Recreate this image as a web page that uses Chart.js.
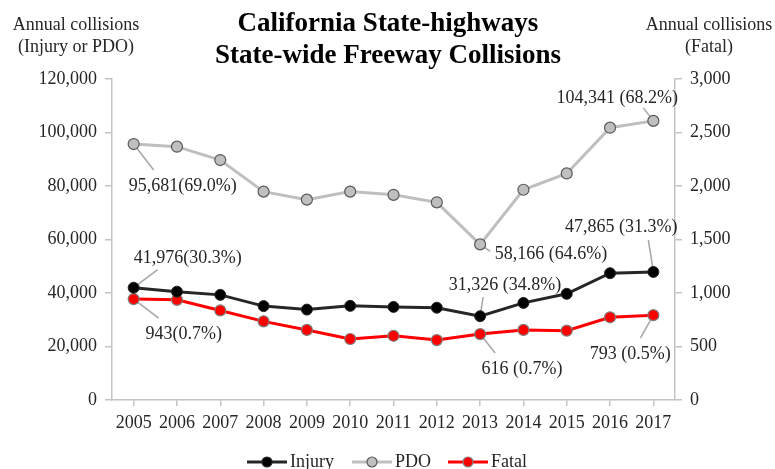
<!DOCTYPE html>
<html>
<head>
<meta charset="utf-8">
<script src="https://cdn.jsdelivr.net/npm/chart.js@4.4.1/dist/chart.umd.min.js"></script>
<style>
  html, body { margin: 0; padding: 0; background: #fff; }
  #wrap { width: 775px; height: 469px; position: relative; }
</style>
</head>
<body>
<div id="wrap"><canvas id="cv"></canvas></div>
<script>
const years  = ['2005', '2006', '2007', '2008', '2009', '2010', '2011', '2012', '2013', '2014', '2015', '2016', '2017'];
const injury = [41976, 40500, 39300, 35100, 33800, 35200, 34800, 34500, 31326, 36300, 39700, 47400, 47865];
const pdo    = [95681, 94700, 89700, 77900, 74900, 77900, 76700, 73900, 58166, 78600, 84700, 101800, 104341];
const fatal  = [943, 936, 837, 735, 655, 570, 600, 560, 616, 655, 648, 773, 793];

const leftTicks  = [0, 20000, 40000, 60000, 80000, 100000, 120000];
const rightTicks = [0, 500, 1000, 1500, 2000, 2500, 3000];

// callouts: dataset index, year index, text offset, leader end offset
const callouts = [
  { ds: 1, i: 0,  sep: '',  tx: 49,  ty: 42,  lx: 20,  ly: 26 },
  { ds: 0, i: 0,  sep: '',  tx: 54,  ty: -29, lx: 24,  ly: -18 },
  { ds: 2, i: 0,  sep: '',  tx: 50,  ty: 35,  lx: 25,  ly: 19 },
  { ds: 1, i: 8,  sep: ' ', tx: 71,  ty: 10,  lx: 10,  ly: 7 },
  { ds: 0, i: 8,  sep: ' ', tx: 25,  ty: -31, lx: 3,   ly: -19 },
  { ds: 2, i: 8,  sep: ' ', tx: 42,  ty: 35,  lx: 15,  ly: 19 },
  { ds: 1, i: 12, sep: ' ', tx: -36, ty: -23, lx: -10, ly: -13 },
  { ds: 0, i: 12, sep: ' ', tx: -32, ty: -45, lx: -5,  ly: -32 },
  { ds: 2, i: 12, sep: ' ', tx: -23, ty: 39,  lx: -13, ly: 23 }
];

const SERIF = '"Liberation Serif", "Times New Roman", serif';
const TEXT = '#262626';
const AXIS = '#c4c4c4';
Chart.defaults.font.family = SERIF;
Chart.defaults.color = TEXT;

const fmt = v => v.toLocaleString('en-US');
const seriesData = [injury, pdo, fatal];

function calloutText(c) {
  const v = seriesData[c.ds][c.i];
  const total = injury[c.i] + pdo[c.i] + fatal[c.i];
  return fmt(v) + c.sep + '(' + (v / total * 100).toFixed(1) + '%)';
}

const decorPlugin = {
  id: 'decor',
  beforeDatasetsDraw(chart) {
    const { ctx } = chart;
    ctx.save();
    ctx.strokeStyle = '#a6a6a6';
    ctx.lineWidth = 1.5;
    callouts.forEach(c => {
      const p = chart.getDatasetMeta(c.ds).data[c.i];
      ctx.beginPath();
      ctx.moveTo(p.x, p.y);
      ctx.lineTo(p.x + c.lx, p.y + c.ly);
      ctx.stroke();
    });
    ctx.restore();
  },
  afterDatasetsDraw(chart) {
    const { ctx } = chart;
    ctx.save();
    ctx.fillStyle = TEXT;
    ctx.textAlign = 'center';
    ctx.textBaseline = 'middle';
    ctx.font = '18px ' + SERIF;
    callouts.forEach(c => {
      const p = chart.getDatasetMeta(c.ds).data[c.i];
      ctx.fillText(calloutText(c), p.x + c.tx, p.y + c.ty);
    });

    // title
    ctx.textBaseline = 'alphabetic';
    ctx.font = 'bold 27px ' + SERIF;
    ctx.fillStyle = '#000';
    ctx.fillText('California State-highways', 388, 31);
    ctx.fillText('State-wide Freeway Collisions', 388, 63);

    // axis titles
    ctx.font = '18px ' + SERIF;
    ctx.fillStyle = TEXT;
    ctx.fillText('Annual collisions', 76, 30);
    ctx.fillText('(Injury or PDO)', 76, 52);
    ctx.fillText('Annual collisions', 709, 30);
    ctx.fillText('(Fatal)', 709, 52);

    // legend
    ctx.font = '18px ' + SERIF;
    ctx.textAlign = 'left';
    ctx.textBaseline = 'middle';
    const ly = 462;
    const items = [
      { label: 'Injury', x: 247 },
      { label: 'PDO', x: 352 },
      { label: 'Fatal', x: 448 }
    ];
    items.forEach((it, k) => {
      const ds = chart.data.datasets[k];
      ctx.strokeStyle = ds.borderColor;
      ctx.lineWidth = 3;
      ctx.beginPath();
      ctx.moveTo(it.x, ly);
      ctx.lineTo(it.x + 40, ly);
      ctx.stroke();
      ctx.beginPath();
      ctx.arc(it.x + 20, ly, 5, 0, Math.PI * 2);
      ctx.fillStyle = ds.pointBackgroundColor;
      ctx.fill();
      ctx.lineWidth = 1.2;
      ctx.strokeStyle = ds.pointBorderColor;
      ctx.stroke();
      ctx.fillStyle = TEXT;
      ctx.fillText(it.label, it.x + 43, ly);
    });
    ctx.restore();
  }
};

const axisGrid = { drawOnChartArea: false, drawTicks: true, tickLength: 7, color: AXIS, lineWidth: 1.5 };
const axisBorder = { display: true, color: AXIS, width: 1.5 };

new Chart(document.getElementById('cv').getContext('2d'), {
  type: 'line',
  data: {
    labels: years,
    datasets: [
      {
        label: 'Injury', data: injury, yAxisID: 'y',
        borderColor: '#262626', borderWidth: 3,
        pointBackgroundColor: '#000', pointBorderColor: '#262626',
        pointRadius: 5.5, pointBorderWidth: 1, tension: 0
      },
      {
        label: 'PDO', data: pdo, yAxisID: 'y',
        borderColor: '#bfbfbf', borderWidth: 3,
        pointBackgroundColor: '#bfbfbf', pointBorderColor: '#595959',
        pointRadius: 5.5, pointBorderWidth: 1.2, tension: 0
      },
      {
        label: 'Fatal', data: fatal, yAxisID: 'y1',
        borderColor: '#ff0000', borderWidth: 3,
        pointBackgroundColor: '#ff0000', pointBorderColor: '#7f7f7f',
        pointRadius: 5.5, pointBorderWidth: 1.2, tension: 0
      }
    ]
  },
  options: {
    responsive: true,
    maintainAspectRatio: false,
    animation: false,
    layout: { padding: { top: 79, bottom: 30, left: 0, right: 0 } },
    plugins: { legend: { display: false }, tooltip: { enabled: false } },
    scales: {
      x: {
        offset: true,
        grid: { ...axisGrid, tickLength: 6 },
        border: axisBorder,
        ticks: { font: { size: 18 }, color: TEXT, padding: 6, maxRotation: 0, autoSkip: false },
        afterFit: s => { s.height = 39; }
      },
      y: {
        position: 'left',
        min: 0, max: 120000,
        grid: axisGrid,
        border: axisBorder,
        afterBuildTicks: s => { s.ticks = leftTicks.map(v => ({ value: v })); },
        ticks: { font: { size: 18 }, color: TEXT, padding: 8, callback: v => fmt(v) },
        afterFit: s => { s.width = 112; }
      },
      y1: {
        position: 'right',
        min: 0, max: 3000,
        grid: axisGrid,
        border: axisBorder,
        afterBuildTicks: s => { s.ticks = rightTicks.map(v => ({ value: v })); },
        ticks: { font: { size: 18 }, color: TEXT, padding: 8, callback: v => fmt(v) },
        afterFit: s => { s.width = 100; }
      }
    }
  },
  plugins: [decorPlugin]
});
</script>
</body>
</html>
